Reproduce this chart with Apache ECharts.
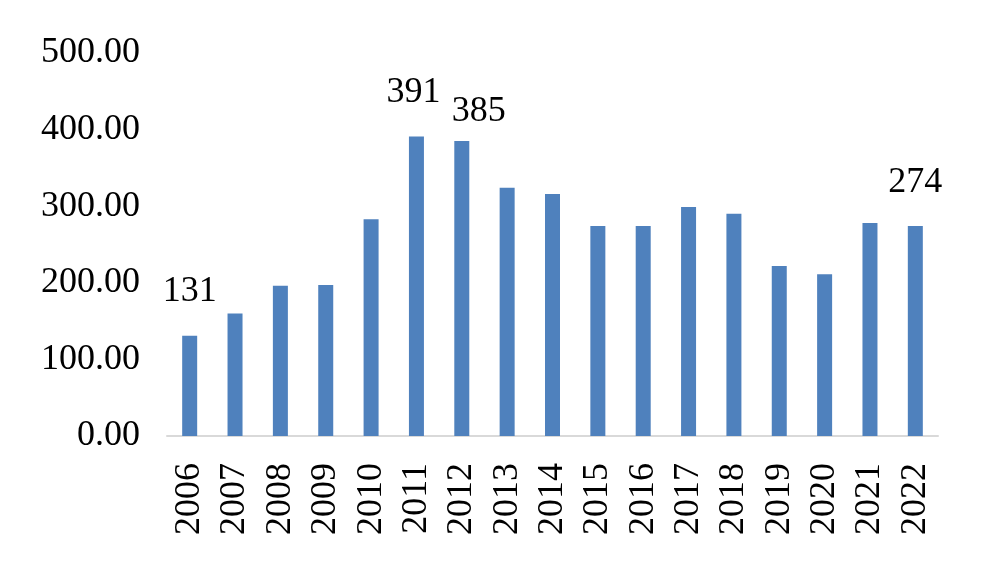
<!DOCTYPE html>
<html>
<head>
<meta charset="utf-8">
<script src="https://cdn.jsdelivr.net/npm/echarts@6/dist/echarts.min.js"></script>
<style>
html,body{margin:0;padding:0;background:#fff;}
#chart{width:990px;height:582px;}
</style>
</head>
<body>
<div id="chart"></div>
<script>
var categories = ['2006','2007','2008','2009','2010','2011','2012','2013','2014','2015','2016','2017','2018','2019','2020','2021','2022'];
var values = [131,160,196,197,283,391,385,324,316,274,274,299,290,222,211,278,274];
var labeledYears = ['2006','2011','2012','2022'];
var yTicks = [0,100,200,300,400,500];

var font = '"Liberation Serif","Times New Roman",serif';
var chart = echarts.init(document.getElementById('chart'));
var data = values.map(function(v,i){
  var item = {
    value: v,
    label: {show: labeledYears.indexOf(categories[i]) >= 0}
  };
  if (categories[i] === '2012') item.label.offset = [17, 14];
  if (categories[i] === '2011') item.label.offset = [-3, 0];
  return item;
});
chart.setOption({
  animation:false,
  backgroundColor:'#ffffff',
  grid:{left:167,right:52,top:53,bottom:146},
  xAxis:{
    type:'category',
    data:categories,
    axisLine:{show:true,lineStyle:{color:'#d9d9d9',width:2}},
    axisTick:{show:false},
    axisLabel:{rotate:90,margin:27,color:'#000',fontSize:36,fontFamily:font,interval:0}
  },
  yAxis:{
    type:'value',
    min:yTicks[0],max:yTicks[yTicks.length-1],interval:100,
    axisLine:{show:false},
    axisTick:{show:false},
    splitLine:{show:false},
    axisLabel:{margin:27,color:'#000',fontSize:36,fontFamily:font,
      formatter:function(v){return v.toFixed(2);}}
  },
  series:[{
    type:'bar',
    data:data,
    barWidth:15,
    itemStyle:{color:'#4f81bd'},
    label:{position:'top',distance:26,color:'#000',fontSize:36,fontFamily:font}
  }]
});
</script>
</body>
</html>
